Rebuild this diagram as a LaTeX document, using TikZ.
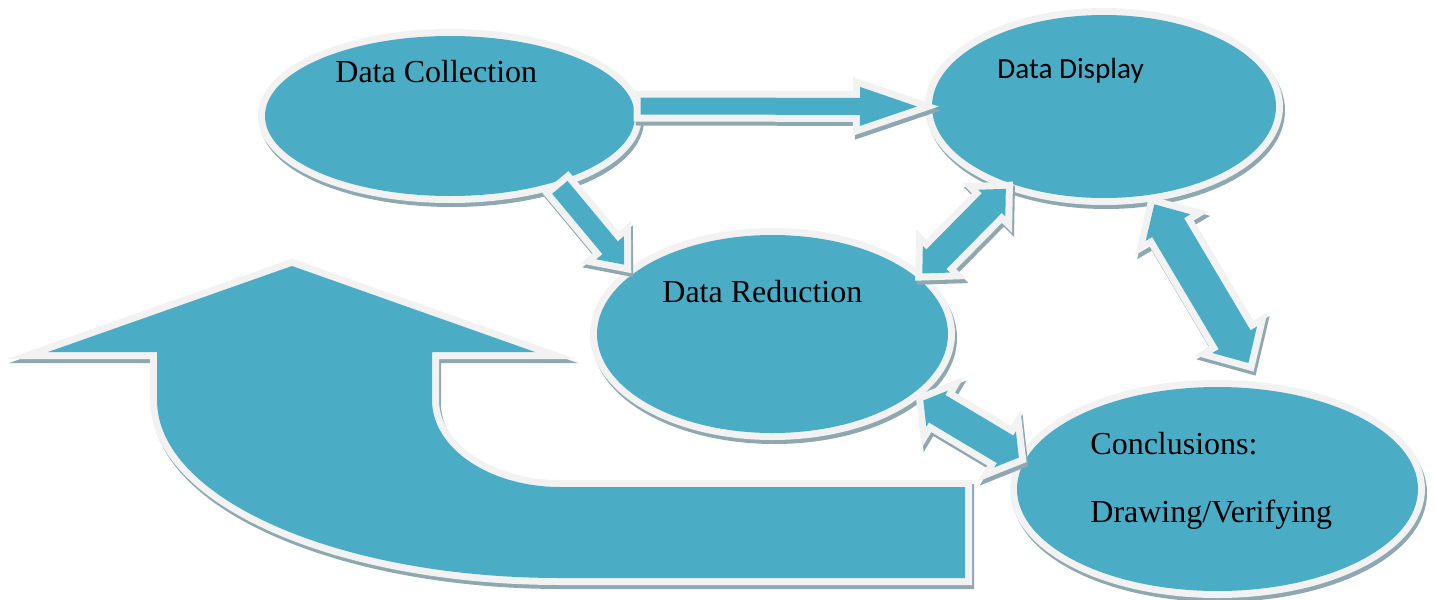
\documentclass[tikz,border=0pt]{standalone}
\usepackage{fontspec}
\setmainfont{Liberation Serif}
\newfontfamily\calfont{Carlito}
\usetikzlibrary{calc,shapes.geometric}
\definecolor{tealc}{HTML}{4BACC6}
\definecolor{bordc}{HTML}{F2F2F2}
\definecolor{shadc}{HTML}{8EA8B1}
\tikzset{
  shadowpre/.style={preaction={draw=shadc, line width=7pt, transform canvas={shift={(1pt,-2pt)}}}},
  blob/.style={shadowpre, preaction={draw=bordc, line width=7pt}, fill=tealc},
  ell/.style={ellipse, blob, inner sep=0pt, outer sep=3.5pt},
  lbl/.style={font=\fontsize{16}{19}\selectfont, text=black, inner sep=0pt},
}
% single block arrow: from, to, half shaft, half head, head length
\newcommand\blkarrow[5]{%
  \coordinate (ba-h) at ($(#2)!#5!(#1)$);
  \path[blob] ($(#1)!#3!90:(#2)$) -- ($(ba-h)!#3!90:(#2)$) -- ($(ba-h)!#4!90:(#2)$) -- (#2)
     -- ($(ba-h)!#4!-90:(#2)$) -- ($(ba-h)!#3!-90:(#2)$) -- ($(#1)!#3!-90:(#2)$) -- cycle;
}
% double block arrow
\newcommand\dblarrow[5]{%
  \coordinate (da-a) at ($(#1)!#5!(#2)$);
  \coordinate (da-b) at ($(#2)!#5!(#1)$);
  \path[blob] (#1) -- ($(da-a)!#4!90:(#2)$) -- ($(da-a)!#3!90:(#2)$) -- ($(da-b)!#3!90:(#2)$)
     -- ($(da-b)!#4!90:(#2)$) -- (#2) -- ($(da-b)!#4!-90:(#2)$) -- ($(da-b)!#3!-90:(#2)$)
     -- ($(da-a)!#3!-90:(#2)$) -- ($(da-a)!#4!-90:(#2)$) -- cycle;
}
\begin{document}
\begin{tikzpicture}[x=0.5pt, y=-0.5pt]
\useasboundingbox (0,0) rectangle (1436,600);
% big U-turn arrow
\path[blob] (965,487) -- (560,487) arc[start angle=90, end angle=180, x radius=128, y radius=87]
  -- (432,352) -- (535,352) -- (292,266) -- (48,352) -- (157,352) -- (157,400)
  arc[start angle=180, end angle=90, x radius=403, y radius=178] -- (965,578) -- cycle;
% ellipses
\node[ell, minimum width=185pt, minimum height=80pt] (dc) at (450,116) {};
\node[ell, minimum width=172pt, minimum height=91.5pt] (dd) at (1104,106.5) {};
\node[ell, minimum width=175.5pt, minimum height=99pt] (dr) at (772.5,334) {};
\node[ell, minimum width=200.5pt, minimum height=102pt] (dcv) at (1217.5,489) {};
% labels
\node[lbl, anchor=base west] (tdc) at (335,82) {Data Collection};
\node[lbl, font=\calfont\fontsize{14.6}{17}\selectfont, anchor=base west] (tdd) at (997,78) {Data Display};
\node[lbl, anchor=base west] (tdr) at (662,302) {Data Reduction};
\node[lbl, anchor=base west] (tcv1) at (1090,454) {Conclusions:};
\node[lbl, anchor=base west] (tcv2) at (1090,522) {Drawing/Verifying};
% connectors
\coordinate (a1s) at (dc.3);
\coordinate (a1e) at ($(dd.180)+(-8,0)$);
\blkarrow{a1s}{a1e}{4.25pt}{9.75pt}{28.5pt}
\coordinate (a2s) at (dc.-33);
\coordinate (a2e) at ($(dr.155)+(-6,-3)$);
\blkarrow{a2s}{a2e}{5pt}{9pt}{11pt}
\coordinate (a3s) at (dd.-140);
\coordinate (a3e) at (dr.22);
\dblarrow{a3s}{a3e}{7pt}{9.5pt}{10pt}
\coordinate (a4s) at ($(dd.-63)+(2,3)$);
\coordinate (a4e) at ($(dcv.76)+(4,-18)$);
\dblarrow{a4s}{a4e}{9.25pt}{13pt}{13.5pt}
\coordinate (a5s) at ($(dr.-24)+(6,2)$);
\coordinate (a5e) at (dcv.171);
\dblarrow{a5s}{a5e}{8pt}{10.5pt}{8pt}
\end{tikzpicture}
\end{document}
